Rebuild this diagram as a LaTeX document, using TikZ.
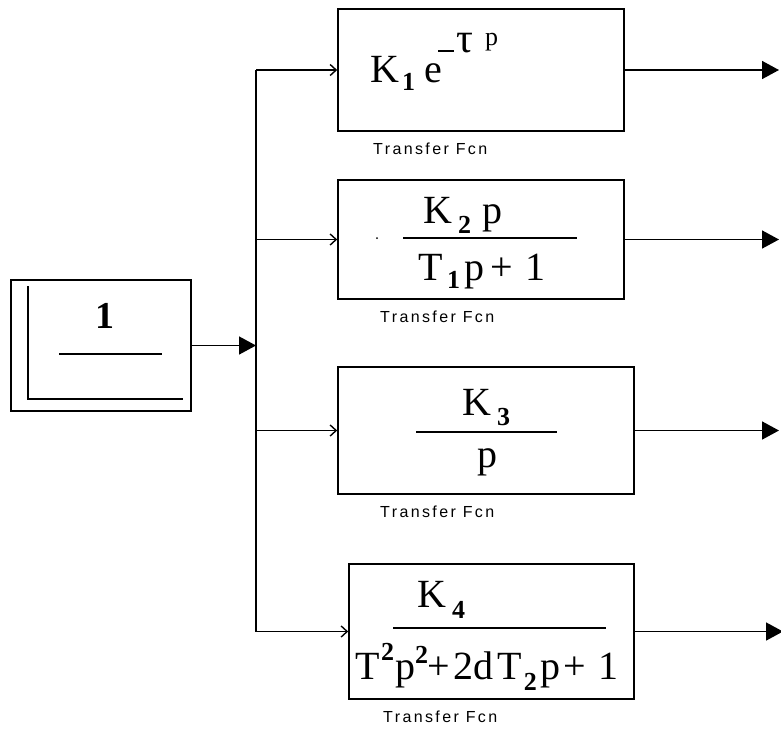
\documentclass[tikz,border=0pt]{standalone}
\usepackage{fontspec}
\usetikzlibrary{arrows.meta}
\newfontfamily\serfont{Liberation Serif}
\newfontfamily\lblfont[LetterSpace=15]{Liberation Sans}
\newcommand{\smb}[1]{{\serfont\bfseries\fontsize{26}{26}\selectfont #1}}
\begin{document}
\begin{tikzpicture}[x=1pt,y=-1pt,
  box/.style={draw,line width=1.6pt,rectangle,inner sep=0pt},
  wire/.style={line width=1.6pt},
  inarr/.style={line width=1.4pt,-{Straight Barb[length=6pt,width=11pt]}},
  outarr/.style={line width=1.6pt,-{Triangle[length=17pt,width=18pt]}},
  big/.style={font=\serfont\fontsize{40}{40}\selectfont,inner sep=0pt,anchor=base west},
  bigb/.style={font=\serfont\bfseries\fontsize{38}{38}\selectfont,inner sep=0pt,anchor=base west},
  sb/.style={font=\serfont\bfseries\fontsize{26}{26}\selectfont,inner sep=0pt,anchor=base west},
  sp/.style={font=\serfont\fontsize{26}{26}\selectfont,inner sep=0pt,anchor=base west},
  lab/.style={font=\lblfont\fontsize{16}{16}\selectfont,inner sep=0pt,anchor=west}]
\useasboundingbox (0,0) rectangle (781,729);
% boxes
\node[box,minimum width=180pt,minimum height=131pt] (src) at (101,345.5) {};
\node[box,minimum width=286pt,minimum height=122pt] (b1) at (481,70) {};
\node[box,minimum width=286pt,minimum height=119pt] (b2) at (481,239.5) {};
\node[box,minimum width=296pt,minimum height=127pt] (b3) at (486,430.5) {};
\node[box,minimum width=285pt,minimum height=135pt] (b4) at (491.5,631.5) {};
% source block inner detail
\coordinate (ia) at (28,286);
\coordinate (ib) at (28,399);
\coordinate (ic) at (183,399);
\draw[wire] (ia) -- (ib) -- (ic);
\node[bigb,anchor=base] (one) at (105,328) {1};
\coordinate (fa) at (59,354);
\coordinate (fb) at (162,354);
\draw[wire] (fa) -- (fb);
% bus
\coordinate (jn) at (256,345.5);
\coordinate (jt) at (256,70);
\coordinate (jb) at (256,631.5);
\draw[outarr] (src.east) -- (jn);
\draw[wire] (jt) -- (jb);
\draw[inarr] (b1.west -| jn) -- (b1.west);
\draw[inarr] (b2.west -| jn) -- (b2.west);
\draw[inarr] (b3.west -| jn) -- (b3.west);
\draw[inarr] (b4.west -| jn) -- (b4.west);
% outputs
\coordinate (tx) at (779,0);
\coordinate (tx4) at (783,0);
\draw[outarr] (b1.east) -- (b1.east -| tx);
\draw[outarr] (b2.east) -- (b2.east -| tx);
\draw[outarr] (b3.east) -- (b3.east -| tx);
\draw[outarr] (b4.east) -- (b4.east -| tx4);
% box 1 text
\node[big] (k1) at (370,82) {K};
\node[sb] (k1s) at (402,90) {1};
\node[big] (e1) at (424,82) {e};
\node[sp,anchor=center] (m1) at (446,51) {\rule{16pt}{1.6pt}};
\node[font=\serfont\fontsize{42}{42}\selectfont,inner sep=0pt,anchor=base west] (t1) at (456,52) {τ};
\node[sp] (p1) at (485,45) {p};
% box 2 text
\node[big] (k2) at (423,223) {K};
\node[sb] (k2s) at (458,233) {2};
\node[big] (p2) at (482,223) {p};
\coordinate (l2a) at (403,238);
\coordinate (l2b) at (577,238);
\draw[wire] (l2a) -- (l2b);
\fill (377,238) circle (1pt);
\node[big] (d2) at (418,280) {T\kern4.6pt\raisebox{-8pt}{\smb{1}}\kern4pt p\kern6pt+\kern12.4pt 1};
% box 3 text
\node[big] (k3) at (462,415) {K};
\node[sb] (k3s) at (497,425) {3};
\coordinate (l3a) at (416,432);
\coordinate (l3b) at (557,432);
\draw[wire] (l3a) -- (l3b);
\node[big] (p3) at (477,467) {p};
% box 4 text
\node[big] (k4) at (417,607) {K};
\node[sb] (k4s) at (452,618) {4};
\coordinate (l4a) at (393,628);
\coordinate (l4b) at (606,628);
\draw[wire] (l4a) -- (l4b);
\node[big] (d4) at (355,679) {T\kern1.6pt\raisebox{19pt}{\smb{2}}\kern1pt p\raisebox{16pt}{\smb{2}}\kern-1pt+\kern4pt 2d\kern4pt T\kern1.6pt\raisebox{-11pt}{\smb{2}}\kern4pt p\kern3pt+\kern12pt 1};
% labels
\node[lab] (lb1) at (373,149) {Transfer Fcn};
\node[lab] (lb2) at (380,317) {Transfer Fcn};
\node[lab] (lb3) at (380,512) {Transfer Fcn};
\node[lab] (lb4) at (383,717) {Transfer Fcn};
\end{tikzpicture}
\end{document}
